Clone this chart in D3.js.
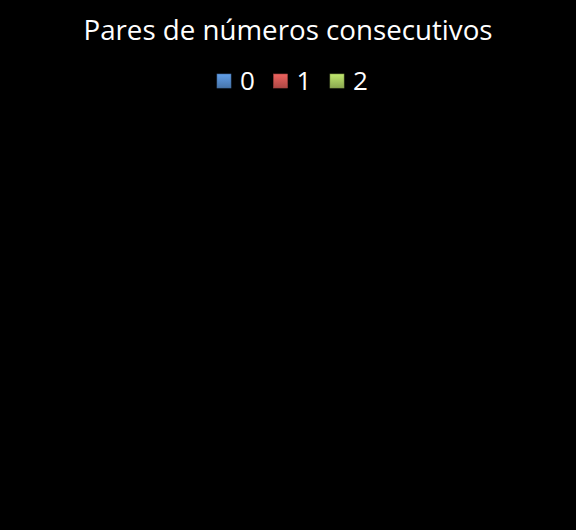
<!DOCTYPE html>
<html>
<head>
<meta charset="utf-8">
<script src="https://d3js.org/d3.v7.min.js"></script>
<style>
  body { margin: 0; background: #000; }
  text { font-family: "Open Sans", sans-serif; fill: #fff; }
</style>
</head>
<body>
<svg width="576" height="530"></svg>
<script>
const title = "Pares de números consecutivos";
const categories = ["0", "1", "2"];
const values = [0, 0, 0];   // the plotted series is empty in the picture
const colors = ["#4F81BD", "#C0504D", "#9BBB59"];

const svg = d3.select("svg");
svg.append("rect").attr("width", 576).attr("height", 530).attr("fill", "#000");

// bevelled legend keys
const defs = svg.append("defs");
colors.forEach(function(c, i) {
  const g = defs.append("linearGradient").attr("id", "key" + i)
    .attr("x1", 0).attr("y1", 0).attr("x2", 0).attr("y2", 1);
  g.append("stop").attr("offset", "0%").attr("stop-color", d3.color(c).brighter(0.6));
  g.append("stop").attr("offset", "100%").attr("stop-color", d3.color(c).darker(0.3));
});

svg.append("text")
  .attr("x", 288).attr("y", 40)
  .attr("text-anchor", "middle")
  .attr("font-size", 27)
  .attr("textLength", 409)
  .attr("lengthAdjust", "spacingAndGlyphs")
  .text(title);

// legend
const legendX = d3.scalePoint().domain(categories).range([217, 330]);
const leg = svg.selectAll(".leg").data(categories).join("g")
  .attr("class", "leg")
  .attr("transform", d => "translate(" + legendX(d) + ",74)");
leg.append("rect")
  .attr("width", 14).attr("height", 14)
  .attr("stroke", (d, i) => d3.color(colors[i]).darker(0.5))
  .attr("stroke-width", 0.6)
  .attr("fill", (d, i) => "url(#key" + i + ")");
leg.append("text")
  .attr("x", 23).attr("y", 16)
  .attr("font-size", 26)
  .text(d => d);

// pie of the series (all zero, so nothing shows)
const pie = d3.pie().sort(null);
const arc = d3.arc().innerRadius(0).outerRadius(170);
svg.append("g").attr("transform", "translate(288,310)")
  .selectAll("path").data(pie(values)).join("path")
  .attr("fill", (d, i) => colors[i])
  .attr("d", arc);
</script>
</body>
</html>
